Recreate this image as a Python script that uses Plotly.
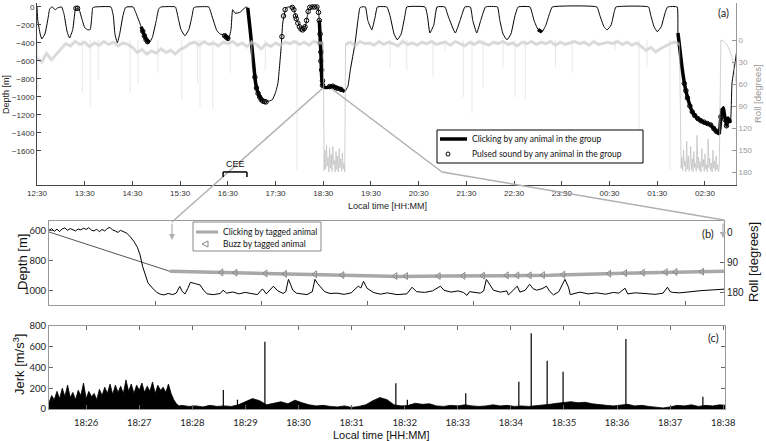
import pandas as pd
import plotly.graph_objects as go

W, H = 766, 441
GREY = '#bdbdbd'
LINK = '#b0b0b0'

# ---------------- panel (a): whole-record dive profile ----------------
profile_time = [
    "12:30", "12:31", "12:34", "12:36", "12:40", "12:44", "12:46", "12:49", "12:53", "12:56", "13:01",
    "13:04", "13:08", "13:11", "13:15", "13:18", "13:20", "13:23", "13:27", "13:30", "13:34", "13:37", "13:39", "13:40", "13:43",
    "14:03", "14:06", "14:08", "14:11", "14:14", "14:18", "14:21", "14:23",
    "14:31", "14:35", "14:41", "14:47", "14:51", "14:55", "15:00", "15:03", "15:06",
    "15:24", "15:27", "15:31", "15:36", "15:41", "15:45", "15:47", "15:50",
    "16:06", "16:10", "16:16", "16:20", "16:25", "16:29", "16:31", "16:34", "16:36", "16:39", "16:45", "16:50", "16:53",
    "16:55", "16:58", "17:02", "17:05", "17:09", "17:13", "17:17", "17:22", "17:26", "17:30", "17:33", "17:37", "17:39", "17:43", "17:46",
    "17:52", "17:54", "17:57", "18:01", "18:05", "18:08", "18:10", "18:12", "18:14",
    "18:23", "18:25", "18:27", "18:28", "18:30", "18:35", "18:41", "18:51", "18:57", "19:01", "19:04", "19:10", "19:14", "19:16", "19:18",
    "19:23", "19:26", "19:31", "19:35", "19:38",
    "19:50", "19:54", "19:59", "20:03", "20:08", "20:13", "20:15",
    "20:38", "20:41", "20:44", "20:49", "20:53",
    "21:03", "21:07", "21:16", "21:22", "21:28",
    "21:35", "21:38", "21:43", "21:48", "21:54",
    "22:09", "22:12", "22:16", "22:21", "22:26", "22:31", "22:35",
    "22:50", "22:55", "23:00", "23:05", "23:10", "23:15", "23:18",
    "00:14", "00:18", "00:23", "00:27", "00:32", "00:36", "00:38",
    "01:19", "01:22", "01:26", "01:30", "01:35", "01:40", "01:43",
    "01:55", "01:56", "02:01", "02:05", "02:09", "02:14", "02:20", "02:28", "02:37", "02:45", "02:48",
    "02:50", "02:53", "02:54", "02:57", "02:58", "02:59", "03:02", "03:04", "03:08", "03:10",
]
profile_depth = [
    0, -150, -300, -355, -300, -120, -20, 0, -30, -10, 0,
    -80, -280, -345, -250, -40, -10, -30, -150, -230, -255, -250, -100, -10, 0,
    0, -100, -300, -400, -300, -100, -10, 0,
    0, -80, -220, -360, -400, -340, -150, -20, 0,
    0, -100, -250, -320, -250, -100, -10, 0,
    0, -100, -260, -300, -310, -340, -360, -250, -30, -70, -60, -20, 0,
    -10, -250, -600, -850, -980, -1040, -1055, -1045, -1030, -950, -845, -450, -180, -10, 0,
    0, -60, -145, -235, -255, -200, -100, -10, 0,
    0, -150, -500, -780, -890, -895, -880, -910, -940, -880, -700, -400, -120, -10, 0,
    0, -150, -255, -120, 0,
    0, -100, -300, -365, -300, -80, 0,
    0, -100, -290, -200, 0,
    0, -100, -290, -150, 0,
    0, -150, -290, -150, 0,
    0, -150, -300, -365, -300, -100, 0,
    0, -150, -250, -280, -200, -60, 0,
    0, -100, -220, -255, -200, -50, 0,
    0, -100, -220, -275, -220, -60, 0,
    0, -290, -665, -890, -1035, -1165, -1235, -1280, -1310, -1390, -1400,
    -1220, -1120, -1170, -1320, -1255, -1235, -1290, -845, -610, -480,
]

click_start = ["14:40", "16:24", "16:55", "18:24", "23:00", "01:56"]
click_end = ["14:52", "16:32", "17:14", "18:58", "23:06", "03:03"]

pulsed_time = [
    "13:19", "13:21", "14:43", "14:45", "14:47", "14:49", "16:26", "16:28", "16:30",
    "17:04", "17:06", "17:08", "17:10", "17:12", "17:14", "17:16", "17:18",
    "17:38", "17:40", "17:42", "17:51", "17:53", "17:55", "17:56", "17:58", "18:00", "18:02", "18:04",
    "18:06", "18:07", "18:09", "18:11", "18:13", "18:16", "18:19", "18:22",
    "18:24", "18:25", "18:26", "18:26", "18:27", "18:27", "18:28", "18:29", "18:29",
    "18:38", "18:42", "18:45", "18:48", "18:52",
    "02:04", "02:06", "02:08", "02:11", "02:14", "02:17", "02:21", "02:25", "02:29", "02:33",
    "02:37", "02:41", "02:44", "02:47", "02:50", "02:52", "02:55", "02:57", "03:00",
]
pulsed_depth = [
    -15, -15, -270, -320, -360, -385, -320, -335, -350,
    -780, -900, -960, -1000, -1030, -1045, -1052, -1055,
    -330, -100, -30, -5, -30, -100, -130, -180, -220, -245, -255,
    -240, -220, -150, -50, -5, 0, 0, 0,
    -60, -150, -300, -400, -500, -600, -700, -820, -870,
    -885, -880, -895, -905, -915,
    -850, -930, -1010, -1100, -1165, -1205, -1240, -1265, -1280, -1295,
    -1310, -1350, -1380, -1395, -1220, -1150, -1250, -1320, -1260,
]

# roll trace of panel (a), sampled pieces
roll_band1_start = "12:30"   # every 6 min
roll_band1 = [24, 30, 18, 27, 20, 12,
              5, 8, 2, 6, 3, 9, 4, 7, 2, 6, 3, 8, 4, 6, 10,
              17, 13, 19, 15, 18, 12, 17, 14, 19, 13, 10,
              5, 3, 7, 2, 6, 4, 8, 3, 5, 2, 7, 4, 9, 3, 6, 12, 5, 9, 4, 7, 3,
              5, 2, 6, 3, 7, 2, 4, 4]
roll_dive1_start = "18:31"   # every 1 min
roll_dive1 = [178, 150, 176, 143, 172, 160, 180, 147, 175, 156, 179, 145, 170, 164,
              180, 152, 177, 158, 180, 148, 174, 162, 179, 154, 176, 168, 180]
roll_band2_start = "18:58"   # every 6 min
roll_band2 = [6, 3, 8, 2, 5, 4, 7, 2, 6, 3, 5, 8, 2, 6, 4, 7, 3, 5, 2, 6, 4,
              3, 7, 2, 5, 8, 3, 6, 2, 4, 7, 3, 5, 2, 6, 4, 8, 3, 5, 2, 6, 3,
              5, 2, 7, 3, 6, 4, 2, 5, 3, 7, 2, 6, 4, 3, 5, 2, 6, 3, 7, 4, 9,
              14, 10, 16, 12, 8, 5, 3, 6]
roll_dive2_start = "02:00"   # every 1 min
roll_dive2 = [175, 160, 178, 150, 172, 165, 180, 138, 176, 158, 179, 170, 145, 177, 162,
              180, 152, 174, 168, 179, 130, 175, 160, 178, 166, 180, 148, 173, 163, 179,
              155, 176, 170, 180, 135, 174, 161, 178, 168, 180, 150, 175, 165, 179, 158,
              177, 170, 180, 172]
roll_arc_time = ["02:50", "02:54", "02:58", "03:01", "03:04", "03:06", "03:08", "03:09"]
roll_arc = [0, 2, 7, 14, 23, 35, 50, 58]

roll_spike_time = ["12:31", "13:27", "13:37", "13:47", "14:27", "14:37", "15:02", "15:32", "15:52",
                   "15:55", "16:11", "16:33", "17:00", "17:17", "17:57", "19:54", "20:15", "20:48",
                   "21:03", "21:26", "21:37", "21:51", "22:16", "22:31", "22:44", "23:22", "23:43",
                   "00:37", "01:07", "01:17", "01:46"]
roll_spike = [68, 72, 91, 55, 72, 59, 45, 82, 59, 91, 95, 45, 37, 41, 177, 37, 41, 50,
              14, 78, 100, 64, 37, 78, 82, 37, 45, 14, 164, 37, 177]

# ---------------- panel (b): zoom on the deep dive ----------------
b_start = "18:25:18"
b_depth_sec = [0, 3, 6, 9, 12, 15, 18, 21, 24, 27, 30, 33, 36, 39, 42, 45, 48, 51, 54, 57, 60, 63, 66, 69, 72,
               75, 78, 81, 84, 88, 92, 96, 100, 103, 106, 109, 112, 117, 122, 126,
               130, 135, 140, 144, 148, 151, 154, 157, 160, 165, 171, 175, 179, 186, 194, 197, 201, 208,
               215, 222, 231, 236, 240, 242, 246, 254, 259, 265, 268, 271, 274, 276, 280, 286, 292, 298,
               301, 304, 307, 312, 318, 326, 334, 342, 350, 353, 356, 360, 367, 375, 383, 394, 405, 411,
               416, 425, 434, 443, 447, 455, 463, 469, 473, 476, 488, 492, 495, 499, 503, 511, 518, 520,
               525, 530, 533, 539, 544, 548, 552, 558, 563, 567, 571, 577, 584, 588, 590, 596, 601, 610,
               620, 630, 639, 645, 652, 655, 663, 669, 678, 686, 695, 700, 703, 706, 714, 722, 729, 738,
               746, 755, 764]
b_depth = [595, 585, 602, 588, 604, 586, 580, 596, 584, 592, 600, 587, 593, 582, 590, 578, 595, 600, 588, 606,
           590, 600, 584, 576, 594, 600, 610, 596, 605, 615, 640, 670, 710, 760, 840, 900, 950, 985, 1015, 1027,
           1032, 1022, 1030, 1020, 975, 1010, 1025, 990, 947, 955, 965, 1000, 1025, 1030, 1022, 1000, 1020, 1012,
           1025, 1015, 1022, 1030, 1000, 993, 1025, 973, 1005, 1022, 1010, 927, 970, 1000, 1020, 1027, 1030, 1010,
           927, 955, 973, 1010, 1022, 1020, 1028, 1018, 973, 985, 940, 987, 1015, 1027, 1018, 1030, 1025, 980,
           1010, 1015, 1005, 973, 1000, 1013, 1005, 1015, 1035, 1010, 1020, 1005, 927, 960, 1000, 1013, 1005, 1032,
           1000, 973, 1013, 1000, 960, 990, 1000, 990, 973, 1010, 1032, 1010, 927, 980, 1030, 1020, 1013, 1025,
           1018, 1027, 1015, 1020, 987, 1025, 1018, 1020, 1022, 1028, 1020, 980, 1010, 1015, 1018, 1012, 1010, 1003,
           1000, 995, 993]

track_sec = [0, 137]
track_depth = [607, 873]
clicking_sec = [137, 200, 284, 333, 397, 450, 567, 650, 764]
clicking_depth = [873, 880, 893, 900, 907, 905, 900, 885, 873]
buzz_sec = [195, 211, 245, 267, 301, 332, 392, 404, 441, 469, 491, 518, 530, 544, 559, 582,
            634, 652, 672, 698, 709, 739]
buzz_depth = [880, 882, 887, 890, 893, 898, 905, 905, 905, 903, 902, 900, 900, 900, 898, 895,
              888, 885, 882, 878, 877, 875]

# ---------------- panel (c): jerk ----------------
jerk_dense = [60, 130, 90, 170, 100, 200, 120, 230, 110, 160, 90, 180, 130, 250, 100, 170, 120,
              150, 90, 190, 130, 210, 150, 240, 140, 230, 160, 220, 150, 280, 170, 240, 150, 230,
              180, 250, 160, 220, 170, 260, 150, 230, 180, 210, 160, 240, 150, 90, 50, 30, 35]   # every 3 s from 0 s
jerk_low = [25, 30, 20, 35, 25, 30, 25, 40, 70, 100, 80, 40, 55, 70, 50, 85, 60, 40, 30, 35,
            25, 20, 30, 15, 25, 40, 80, 110, 90, 40, 30, 35, 55, 45, 50, 30, 25, 35, 30, 40,
            30, 25, 30, 40, 30, 35, 25, 30, 25, 30, 35, 45, 55, 65, 70, 60, 65, 50, 40, 35,
            30, 40, 45, 30, 35, 25, 15, 10, 20, 35, 30, 40, 25, 35, 30, 40, 35]          # every 8 s from 158 s
jerk_spike_sec = [197, 213, 244, 392, 405, 471, 531, 545, 563, 581, 652, 739]
jerk_spike = [183, 90, 649, 248, 90, 151, 263, 730, 466, 360, 675, 119]


def clock(t):
    ts = pd.Timestamp("2000-01-01 " + t)
    return ts + pd.Timedelta(days=1) if ts.hour < 12 else ts


def sampled(start, values, minutes):
    t0 = clock(start)
    return [t0 + pd.Timedelta(minutes=minutes * i) for i in range(len(values))]


B0 = pd.Timestamp("2000-01-01 " + b_start)


def after_b(secs):
    return [B0 + pd.Timedelta(seconds=s) for s in secs]


def px(x):
    return x / W


def py(y):
    return 1 - y / H


prof_t = [clock(t) for t in profile_time]

band1_t = sampled(roll_band1_start, roll_band1, 6)
band2_t = sampled(roll_band2_start, roll_band2, 6)
roll_t = (band1_t + sampled(roll_dive1_start, roll_dive1, 1) + band2_t
          + sampled(roll_dive2_start, roll_dive2, 1) + [clock(t) for t in roll_arc_time])
roll_v = roll_band1 + roll_dive1 + roll_band2 + roll_dive2 + roll_arc

spk_x, spk_y = [], []
for t, v in zip(roll_spike_time, roll_spike):
    spk_x += [clock(t), clock(t), None]
    spk_y += [0, v, None]

clk_x, clk_y = [], []
for s, e in zip(click_start, click_end):
    for t, d in zip(prof_t, profile_depth):
        if clock(s) <= t <= clock(e):
            clk_x.append(t)
            clk_y.append(d)
    clk_x.append(None)
    clk_y.append(None)

jerk_sec = [3 * i for i in range(len(jerk_dense))] + [158 + 8 * i for i in range(len(jerk_low))]
jerk_val = jerk_dense + jerk_low
js_x, js_y = [], []
for s, v in zip(jerk_spike_sec, jerk_spike):
    js_x += after_b([s, s]) + [None]
    js_y += [0, v, None]

fig = go.Figure()

# (a)
fig.add_trace(go.Scatter(x=band1_t + [None] + band2_t, y=roll_band1 + [None] + roll_band2,
                         xaxis='x', yaxis='y2', mode='lines',
                         line=dict(color='rgba(210,210,210,0.55)', width=3.5)))
fig.add_trace(go.Scatter(x=roll_t, y=roll_v, xaxis='x', yaxis='y2', mode='lines',
                         line=dict(color=GREY, width=0.7)))
fig.add_trace(go.Scatter(x=spk_x, y=spk_y, xaxis='x', yaxis='y2', mode='lines',
                         line=dict(color='#d6d6d6', width=0.6)))
fig.add_trace(go.Scatter(x=prof_t, y=profile_depth, xaxis='x', yaxis='y', mode='lines',
                         line=dict(color='black', width=1, shape='spline', smoothing=0.35)))
fig.add_trace(go.Scatter(x=clk_x, y=clk_y, xaxis='x', yaxis='y', mode='lines',
                         line=dict(color='black', width=3.5, shape='spline', smoothing=0.35)))
fig.add_trace(go.Scatter(x=[clock(t) for t in pulsed_time], y=pulsed_depth, xaxis='x', yaxis='y',
                         mode='markers',
                         marker=dict(symbol='circle-open', size=4.5, color='black', line=dict(width=1))))

# (b)
fig.add_trace(go.Scatter(x=after_b(track_sec), y=track_depth, xaxis='x2', yaxis='y3', mode='lines',
                         line=dict(color='#555555', width=1)))
fig.add_trace(go.Scatter(x=after_b(clicking_sec), y=clicking_depth, xaxis='x2', yaxis='y3', mode='lines',
                         line=dict(color='#a8a8a8', width=3.5)))
fig.add_trace(go.Scatter(x=after_b(buzz_sec), y=buzz_depth, xaxis='x2', yaxis='y3', mode='markers',
                         marker=dict(symbol='triangle-left-open', size=6, color='#888888',
                                     line=dict(width=1))))
fig.add_trace(go.Scatter(x=after_b(b_depth_sec), y=b_depth, xaxis='x2', yaxis='y3', mode='lines',
                         line=dict(color='black', width=1)))
fig.add_trace(go.Scatter(x=[], y=[], xaxis='x2', yaxis='y4'))

# (c)
fig.add_trace(go.Scatter(x=after_b(jerk_sec), y=jerk_val, xaxis='x3', yaxis='y5', mode='lines',
                         fill='tozeroy', fillcolor='black', line=dict(color='black', width=0.8)))
fig.add_trace(go.Scatter(x=js_x, y=js_y, xaxis='x3', yaxis='y5', mode='lines',
                         line=dict(color='black', width=1.2)))

small = dict(family='Liberation Sans, Arial', size=8, color='#333333')
calib = dict(family='Lato, Open Sans', size=9.5, color='#222222')
common = dict(showgrid=False, zeroline=False, showline=True, ticks='inside', ticklen=4, automargin=False)

fig.update_layout(
    width=W, height=H, autosize=False, showlegend=False,
    margin=dict(l=0, r=0, t=0, b=0, pad=0),
    paper_bgcolor='white', plot_bgcolor='white',
    xaxis=dict(domain=[px(37), px(736)], anchor='y', type='date',
               range=[clock("12:30"), clock("03:09")], tick0=clock("12:30"), dtick=3600000,
               tickformat='%H:%M', linecolor='#444444', tickfont=small, **common),
    yaxis=dict(domain=[py(185), py(3)], anchor='x', range=[-1978, 44],
               tickvals=[0, -200, -400, -600, -800, -1000, -1200, -1400, -1600],
               linecolor='#444444', tickfont=small, **common),
    yaxis2=dict(overlaying='y', side='right', anchor='x', range=[197.7, -50.5],
                tickvals=[0, 30, 60, 90, 120, 150, 180], linecolor='#999999',
                tickcolor='#999999', tickfont=dict(family='Liberation Sans, Arial', size=8, color='#9a9a9a'),
                **common),
    xaxis2=dict(domain=[px(49), px(724)], anchor='y3', type='date',
                range=[B0, B0 + pd.Timedelta(seconds=764)],
                tick0=B0 + pd.Timedelta(seconds=120), dtick=120000, showticklabels=False,
                mirror=True, linecolor='#999999', tickcolor='#666666', **common),
    yaxis3=dict(domain=[py(305), py(221)], anchor='x2', range=[1100, 533],
                tickvals=[600, 800, 1000], linecolor='#999999', tickcolor='#666666',
                tickfont=calib, **common),
    yaxis4=dict(overlaying='y3', side='right', anchor='x2', range=[219, -33],
                tickvals=[0, 90, 180], linecolor='#999999', tickcolor='#666666',
                tickfont=dict(family='Liberation Sans, Arial', size=10, color='#222222'), **common),
    xaxis3=dict(domain=[px(49), px(725)], anchor='y5', type='date',
                range=[B0, B0 + pd.Timedelta(seconds=764)],
                tick0=pd.Timestamp("2000-01-01 18:26"), dtick=60000, tickformat='%H:%M',
                mirror='ticks', linecolor='#999999', tickcolor='#666666', tickfont=calib,
                ticklabelstandoff=5, **common),
    yaxis5=dict(domain=[py(409), py(326)], anchor='x3', range=[0, 800],
                tickvals=[0, 200, 400, 600, 800], mirror='ticks', linecolor='#999999',
                tickcolor='#666666', tickfont=calib, **common),
)

shapes = [
    # links from (a) to (b)
    dict(type='line', xref='paper', yref='paper', x0=px(323), y0=py(88), x1=px(172), y1=py(222),
         line=dict(color=LINK, width=1.5)),
    dict(type='line', xref='paper', yref='paper', x0=px(332), y0=py(89), x1=px(442), y1=py(172),
         line=dict(color=LINK, width=1.5)),
    dict(type='line', xref='paper', yref='paper', x0=px(442), y0=py(172), x1=px(724), y1=py(220),
         line=dict(color=LINK, width=1.5)),
    # CEE bracket
    dict(type='line', xref='x', yref='y', x0=clock("16:24"), x1=clock("16:54"), y0=-1833, y1=-1833,
         line=dict(color='black', width=1.5)),
    dict(type='line', xref='x', yref='y', x0=clock("16:24"), x1=clock("16:24"), y0=-1833, y1=-1890,
         line=dict(color='black', width=1.5)),
    dict(type='line', xref='x', yref='y', x0=clock("16:54"), x1=clock("16:54"), y0=-1833, y1=-1890,
         line=dict(color='black', width=1.5)),
    # legend (a)
    dict(type='rect', xref='paper', yref='paper', x0=px(437), y0=py(130), x1=px(643), y1=py(163),
         line=dict(color='black', width=1), fillcolor='white'),
    dict(type='line', xref='paper', yref='paper', x0=px(440), y0=py(139), x1=px(467), y1=py(139),
         line=dict(color='black', width=3.5)),
    dict(type='circle', xref='paper', yref='paper', x0=px(446), y0=py(152), x1=px(450), y1=py(156),
         line=dict(color='black', width=1)),
    # legend (b)
    dict(type='rect', xref='paper', yref='paper', x0=px(193), y0=py(222), x1=px(321), y1=py(251),
         line=dict(color='#888888', width=1), fillcolor='white'),
    dict(type='line', xref='paper', yref='paper', x0=px(196), y0=py(232), x1=px(218), y1=py(232),
         line=dict(color='#a8a8a8', width=3)),
    dict(type='path', xref='paper', yref='paper',
         path=f"M {px(208)} {py(241)} L {px(202)} {py(244)} L {px(208)} {py(247)} Z",
         line=dict(color='#888888', width=1)),
]
fig.update_layout(shapes=shapes)


def note(x, y, text, **kw):
    d = dict(xref='paper', yref='paper', x=px(x), y=py(y), text=text, showarrow=False,
             xanchor='center', yanchor='middle')
    d.update(kw)
    return d


arial = 'Liberation Sans, Arial'
ann = [
    note(387, 206, 'Local time [HH:MM]', font=dict(family=arial, size=9, color='#222222')),
    note(6, 95, 'Depth [m]', textangle=-90, font=dict(family=arial, size=9, color='#222222')),
    note(758, 94, 'Roll [degrees]', textangle=-90, font=dict(family=arial, size=9.5, color='#9a9a9a')),
    note(723, 13, '(a)', font=dict(family='Lato', size=11, color='#222222')),
    note(470, 139, 'Clicking by any animal in the group', xanchor='left',
         font=dict(family='Lato', size=8.5, color='#111111')),
    note(470, 154, 'Pulsed sound by any animal in the group', xanchor='left',
         font=dict(family='Lato', size=8.5, color='#111111')),
    dict(xref='x', yref='y', x=clock("16:39"), y=-1825, text='CEE', showarrow=False,
         xanchor='center', yanchor='bottom', font=dict(family=arial, size=9, color='#111111')),
    note(22, 262, 'Depth [m]', textangle=-90, font=dict(family=arial, size=13, color='#111111')),
    note(753, 262, 'Roll [degrees]', textangle=-90, font=dict(family=arial, size=13, color='#111111')),
    note(708, 233, '(b)', font=dict(family='Lato', size=11, color='#222222')),
    note(221, 232, 'Clicking by tagged animal', xanchor='left',
         font=dict(family='Lato', size=8.5, color='#111111')),
    note(221, 244, 'Buzz by tagged animal', xanchor='left',
         font=dict(family='Lato', size=8.5, color='#111111')),
    note(19, 365, 'Jerk [m/s<sup>3</sup>]', textangle=-90, font=dict(family=arial, size=13, color='#111111')),
    note(713, 337, '(c)', font=dict(family='Lato', size=11, color='#222222')),
    note(381, 435, 'Local time [HH:MM]', font=dict(family=arial, size=11, color='#111111')),
    # arrows into (b)
    dict(xref='paper', yref='paper', x=px(172), y=py(240), ax=0, ay=-18, text='', showarrow=True,
         arrowhead=2, arrowsize=1, arrowwidth=1.2, arrowcolor=LINK),
    dict(xref='paper', yref='paper', x=px(723), y=py(238), ax=0, ay=-16, text='', showarrow=True,
         arrowhead=2, arrowsize=1, arrowwidth=1.2, arrowcolor=LINK),
]
fig.update_layout(annotations=ann)

# the page's default body margin would shift the 766x441 figure inside the window
fig.write_html("out.html", config={'displayModeBar': False},
               post_script="document.body.style.margin='0';")
